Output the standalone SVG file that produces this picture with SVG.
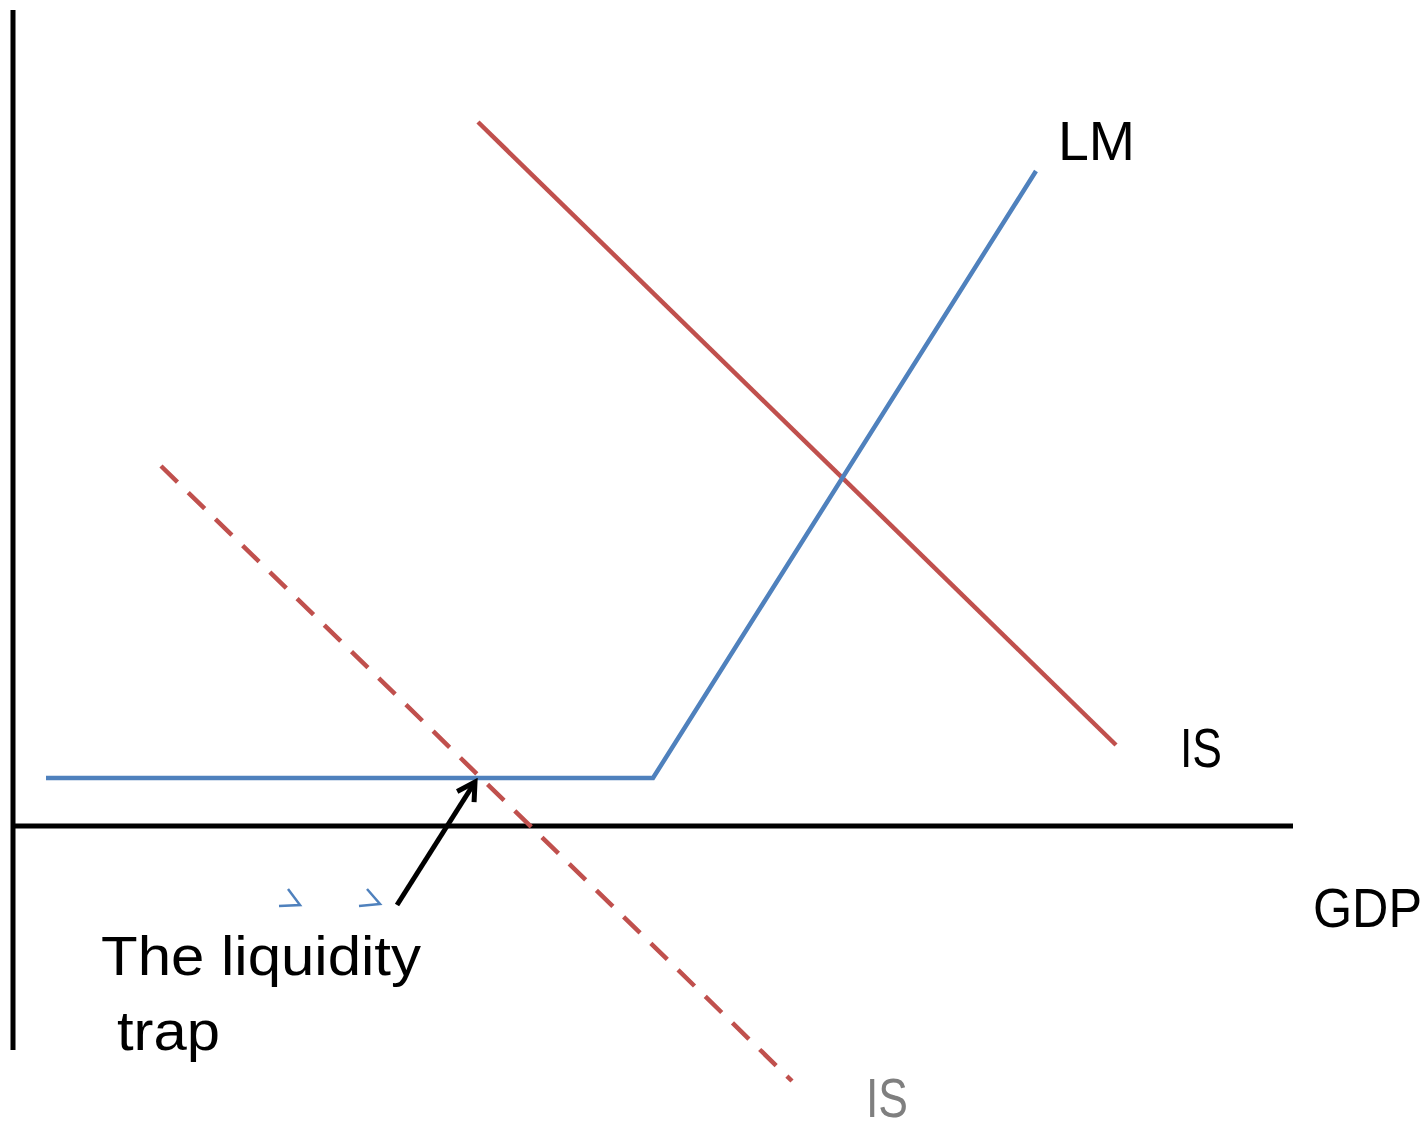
<svg xmlns="http://www.w3.org/2000/svg" width="1428" height="1125" viewBox="0 0 1428 1125">
<style>
.axis{stroke:#000;stroke-width:5;fill:none}
.is{stroke:#c0504d;stroke-width:4.5;fill:none}
.lm{stroke:#4f81bd;stroke-width:4.5;fill:none}
.lbl{font-family:"Liberation Sans",Arial,sans-serif;font-size:56px;fill:#000}
</style>
<defs>
<marker id="ah" viewBox="0 0 10 10" refX="8" refY="5" markerWidth="5" markerHeight="5" orient="auto" markerUnits="strokeWidth">
<path d="M1,1 L8,5 L1,9" fill="none" stroke="#000" stroke-width="2"/>
</marker>
</defs>
<g id="connectors">
<line id="y-axis" class="axis" x1="13" y1="10" x2="13" y2="1050"/>
<line id="x-axis" class="axis" x1="13" y1="826" x2="1293" y2="826"/>
<line id="is1" class="is" x1="478" y1="122" x2="1116" y2="745"/>
<line id="is2" class="is" x1="161" y1="466" x2="792" y2="1081" stroke-dasharray="23 15"/>
<polyline id="lm" class="lm" points="46,778 653,778 1036,171"/>
<line id="arrow" x1="397" y1="905" x2="475" y2="782" stroke="#000" stroke-width="5" marker-end="url(#ah)"/>
<polyline points="288,889 300,905 279,906" fill="none" stroke="#4f81bd" stroke-width="2.5"/>
<polyline points="367,889 380,904 359,906" fill="none" stroke="#4f81bd" stroke-width="2.5"/>
</g>
<g id="label-lm"><text class="lbl" x="1058" y="160" font-size="58" textLength="77" lengthAdjust="spacingAndGlyphs">LM</text></g>
<g id="label-is"><text class="lbl" x="1180" y="767" textLength="42" lengthAdjust="spacingAndGlyphs">IS</text></g>
<g id="label-gdp"><text class="lbl" x="1313" y="927" textLength="109" lengthAdjust="spacingAndGlyphs">GDP</text></g>
<g id="label-trap">
<text class="lbl" x="101" y="975" textLength="320" lengthAdjust="spacingAndGlyphs">The liquidity</text>
<text class="lbl" x="117" y="1050" textLength="103" lengthAdjust="spacingAndGlyphs">trap</text>
</g>
<g id="label-is2"><text class="lbl" x="866" y="1117" textLength="42" lengthAdjust="spacingAndGlyphs" style="fill:#7f7f7f">IS</text></g>
</svg>
